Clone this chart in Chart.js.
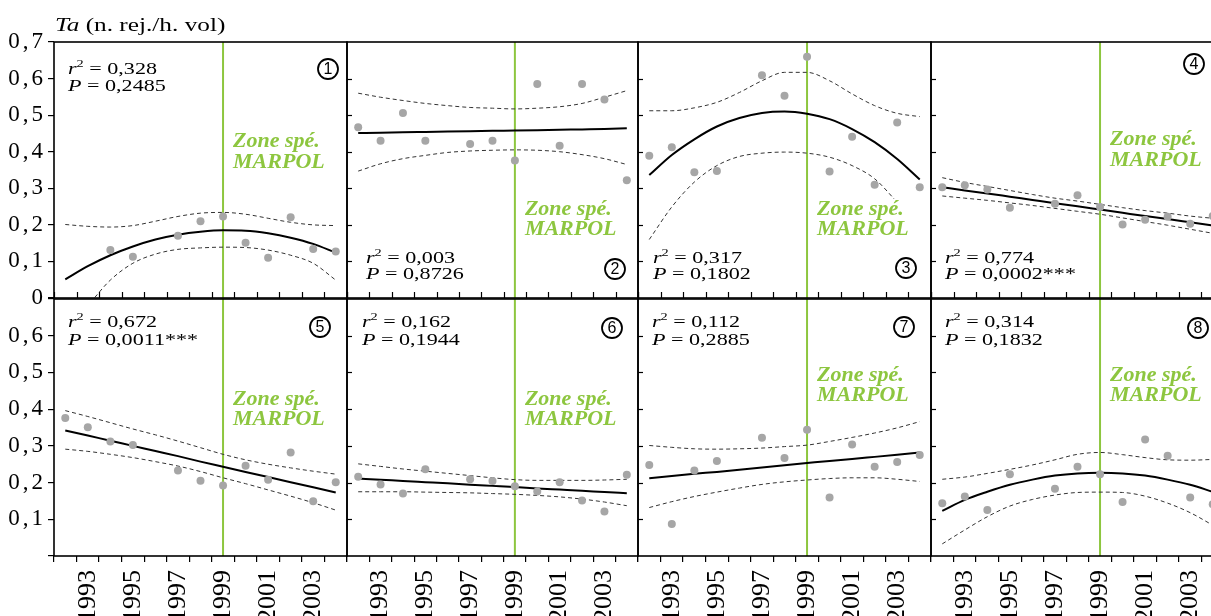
<!DOCTYPE html>
<html><head><meta charset="utf-8">
<script src="https://cdn.jsdelivr.net/npm/chart.js@4.4.0/dist/chart.umd.min.js"></script>
<style>
html,body{margin:0;padding:0;background:#fff;overflow:hidden;width:1211px;height:616px;}
#wrap{position:relative;width:1211px;height:616px;overflow:hidden;background:#fff;}
canvas{position:absolute;}
</style></head><body><div id="wrap"></div>
<script>
// ---------- DATA ----------
const years = [1992,1993,1994,1995,1996,1997,1998,1999,2000,2001,2002,2003,2004];
const yTickLabels = ['0','0,1','0,2','0,3','0,4','0,5','0,6','0,7'];
const xTickLabels = ['1993','1995','1997','1999','2001','2003'];
const markerYear = 1999;

const p1Obs = [null,null,0.131,0.113,null,0.170,0.210,0.223,0.151,0.110,0.221,0.134,0.127];
const p1Fit = [0.051,0.087,0.117,0.141,0.160,0.173,0.181,0.185,0.184,0.177,0.165,0.148,0.124];
const p1Up  = [0.201,0.196,0.194,0.198,0.210,0.223,0.232,0.234,0.229,0.218,0.207,0.200,0.198];
const p1Lo  = [-0.080,-0.020,0.049,0.095,0.120,0.133,0.137,0.139,0.138,0.131,0.117,0.095,0.049];

const p2Obs = [0.467,0.430,0.506,0.430,null,0.421,0.430,0.376,0.585,0.416,0.585,0.543,0.322];
const p2Fit = [0.451,0.452,0.453,0.454,0.455,0.456,0.457,0.458,0.459,0.460,0.461,0.462,0.464];
const p2Up  = [0.560,0.549,0.540,0.532,0.526,0.521,0.519,0.517,0.519,0.523,0.532,0.549,0.567];
const p2Lo  = [0.347,0.367,0.381,0.390,0.398,0.402,0.404,0.405,0.404,0.400,0.392,0.381,0.365];

const p3Obs = [0.389,0.412,0.344,0.347,null,0.609,0.553,0.660,0.346,0.441,0.310,0.480,0.303];
const p3Fit = [0.336,0.391,0.434,0.469,0.492,0.506,0.510,0.504,0.489,0.462,0.426,0.380,0.324];
const p3Up  = [0.512,0.512,0.520,0.535,0.562,0.594,0.617,0.617,0.594,0.558,0.526,0.505,0.496];
const p3Lo  = [0.160,0.249,0.317,0.362,0.387,0.396,0.399,0.396,0.385,0.362,0.326,0.262,null];

const p4Obs = [0.303,0.308,0.297,0.247,null,0.258,0.281,0.249,0.201,0.214,0.222,0.203,0.224];
const p4Fit = [0.303,0.294,0.286,0.277,0.268,0.259,0.251,0.242,0.233,0.224,0.216,0.207,0.198];
const p4Up  = [0.329,0.316,0.305,0.294,0.283,0.273,0.265,0.256,0.247,0.239,0.232,0.224,0.218];
const p4Lo  = [0.279,0.273,0.267,0.260,0.253,0.245,0.237,0.229,0.219,0.209,0.199,0.188,0.177];

const p5Obs = [0.376,0.351,0.312,0.302,null,0.233,0.205,0.192,0.246,0.208,0.282,0.149,0.201];
const p5Fit = [0.342,0.328,0.314,0.300,0.286,0.272,0.257,0.243,0.229,0.215,0.201,0.187,0.173];
const p5Up  = [0.396,0.380,0.363,0.346,0.330,0.313,0.295,0.277,0.262,0.250,0.240,0.231,0.223];
const p5Lo  = [0.291,0.285,0.277,0.268,0.257,0.245,0.230,0.213,0.197,0.180,0.163,0.145,0.125];

const p6Obs = [0.216,0.195,0.170,0.236,null,0.209,0.204,0.190,0.176,0.201,0.151,0.121,0.221];
const p6Fit = [0.211,0.208,0.204,0.201,0.198,0.194,0.191,0.188,0.184,0.181,0.178,0.174,0.171];
const p6Up  = [0.251,0.244,0.237,0.231,0.225,0.219,0.213,0.208,0.206,0.206,0.206,0.207,0.209];
const p6Lo  = [0.175,0.175,0.175,0.174,0.173,0.172,0.170,0.168,0.165,0.161,0.155,0.147,0.137];

const p7Obs = [0.248,0.087,0.233,0.259,null,0.322,0.267,0.344,0.159,0.304,0.243,0.256,0.275];
const p7Fit = [0.212,0.218,0.224,0.229,0.235,0.241,0.247,0.253,0.259,0.264,0.270,0.276,0.282];
const p7Up  = [0.301,0.296,0.292,0.291,0.292,0.294,0.298,0.302,0.312,0.323,0.335,0.349,0.366];
const p7Lo  = [0.132,0.148,0.162,0.174,0.185,0.195,0.202,0.207,0.211,0.213,0.213,0.209,0.203];

const p8Obs = [0.144,0.162,0.125,0.223,null,0.183,0.243,0.223,0.147,0.317,0.273,0.159,0.141];
const p8Fit = [0.123,0.153,0.175,0.194,0.208,0.219,0.225,0.227,0.225,0.219,0.208,0.194,0.175];
const p8Up  = [0.209,0.215,0.225,0.236,0.248,0.262,0.277,0.282,0.276,0.268,0.262,0.261,0.263];
const p8Lo  = [0.033,0.071,0.107,0.136,0.154,0.166,0.173,0.174,0.173,0.163,0.144,0.118,0.084];

const panelNumbers = ['1','2','3','4','5','6','7','8'];
const r2Values = ['0,328','0,003','0,317','0,774','0,672','0,162','0,112','0,314'];
const pValues  = ['0,2485','0,8726','0,1802','0,0002***','0,0011***','0,1944','0,2885','0,1832'];
const zoneLines = ['Zone spé.','MARPOL'];
const titleItalic = 'Ta';
const titleRest = ' (n. rej./h. vol)';

const series = [
  [p1Obs,p1Fit,p1Up,p1Lo],[p2Obs,p2Fit,p2Up,p2Lo],[p3Obs,p3Fit,p3Up,p3Lo],[p4Obs,p4Fit,p4Up,p4Lo],
  [p5Obs,p5Fit,p5Up,p5Lo],[p6Obs,p6Fit,p6Up,p6Lo],[p7Obs,p7Fit,p7Up,p7Lo],[p8Obs,p8Fit,p8Up,p8Lo]
];

// ---------- LAYOUT / STYLE ----------
const colL = [54,347,638,931], colR = [347,638,931,1224];
const rowT = [42,299], rowB = [298,556];
const statsPos = [[68,74,91],[366,263,279],[653,263,279],[945,263,279],[68,327,345],[362,327,345],[652,327,345],[945,327,345]];
const zoneBase = [[147,168],[215,235],[215,235],[145,166],[405,425],[405,425],[381,401],[381,401]];
const numPos = [[328,69],[615,269],[906,268],[1194,64],[320,327],[612,328],[904,327],[1198,328]];
const GREEN = '#8dc63f';
const GRAY = '#a6a6a6';
const SERIF = '"Liberation Serif","Times New Roman",serif';
const SANS = '"Liberation Sans",Arial,sans-serif';

function drawRich(ctx, x, y, parts, sx){
  ctx.save();
  ctx.translate(x, y); ctx.scale(sx, 1);
  ctx.textAlign = 'left'; ctx.textBaseline = 'alphabetic';
  let cx = 0;
  for (const p of parts){
    ctx.font = p.font; ctx.fillStyle = p.color || '#000';
    ctx.fillText(p.t, cx, p.dy || 0);
    cx += ctx.measureText(p.t).width;
  }
  ctx.restore();
  return cx * sx;
}

function xy(arr){ return years.map((yr,k)=>({x:yr, y:arr[k]})); }
function isHalf(v){ return Math.abs(v - Math.round(v)) > 0.25; }

const wrap = document.getElementById('wrap');

for (let i = 0; i < 8; i++){
  const r = Math.floor(i/4), c = i % 4;
  const L = colL[c], R = colR[c], T = rowT[r], B = rowB[r];
  const padLeftTotal = c === 0 ? 54 : 12;
  const padR = 12;
  const padTopTotal = r === 0 ? 42 : 12;
  const padBottomTotal = r === 0 ? 12 : 60;
  const ox = L - padLeftTotal, oy = T - padTopTotal;
  const W = (R - L) + padLeftTotal + padR, H = (B - T) + padTopTotal + padBottomTotal;

  const cv = document.createElement('canvas');
  cv.width = W; cv.height = H;
  cv.style.left = ox + 'px'; cv.style.top = oy + 'px';
  cv.style.width = W + 'px'; cv.style.height = H + 'px';
  wrap.appendChild(cv);

  const [obs, fit, up, lo] = series[i];

  const deco = {
    id: 'deco' + i,
    beforeDraw(chart){ if (c === 0) chart.ctx.letterSpacing = '3px'; },
    beforeDatasetsDraw(chart){
      const ctx = chart.ctx; ctx.letterSpacing = '0px';
      const {top, bottom} = chart.chartArea;
      const gx = chart.scales.x.getPixelForValue(markerYear);
      ctx.save(); ctx.strokeStyle = GREEN; ctx.lineWidth = 2;
      ctx.beginPath(); ctx.moveTo(gx, top); ctx.lineTo(gx, bottom); ctx.stroke(); ctx.restore();
    },
    afterDraw(chart){
      const ctx = chart.ctx; ctx.letterSpacing = '0px';
      const a = chart.chartArea, xs = chart.scales.x, ys = chart.scales.y;
      ctx.save();
      ctx.strokeStyle = '#000'; ctx.lineWidth = 1.2;
      if (r === 0){
        for (let v = 1991.5; v <= 2004.6; v += 1){
          const px = Math.round(xs.getPixelForValue(v)) + 0.5;
          ctx.beginPath(); ctx.moveTo(px, a.bottom); ctx.lineTo(px, a.bottom - 6); ctx.stroke();
        }
      }
      if (c > 0){
        for (let k = 1; k <= 6; k++){
          const py = Math.round(ys.getPixelForValue(k/10)) + 0.5;
          ctx.beginPath(); ctx.moveTo(a.left, py); ctx.lineTo(a.left + 5, py); ctx.stroke();
        }
      }
      ctx.lineWidth = 1.6; ctx.strokeStyle = '#000';
      ctx.strokeRect(a.left, a.top, a.right - a.left, a.bottom - a.top);

      ctx.translate(-ox, -oy);
      const gxAbs = xs.getPixelForValue(markerYear) + ox;
      const zx = gxAbs + 10;
      const [zb1, zb2] = zoneBase[i];
      const zf = 'italic bold 20px ' + SERIF;
      ctx.font = zf;
      const zw = Math.max(ctx.measureText(zoneLines[0]).width, ctx.measureText(zoneLines[1]).width) * 1.1;
      ctx.fillStyle = '#fff';
      ctx.fillRect(zx - 2, zb1 - 16, zw + 4, zb2 - zb1 + 21);
      drawRich(ctx, zx, zb1, [{t: zoneLines[0], font: zf, color: GREEN}], 1.1);
      drawRich(ctx, zx, zb2, [{t: zoneLines[1], font: zf, color: GREEN}], 1.1);

      const [sx, sb1, sb2] = statsPos[i];
      drawRich(ctx, sx, sb1, [
        {t: 'r', font: 'italic 17px ' + SERIF},
        {t: '2', font: '11px ' + SERIF, dy: -7},
        {t: ' = ' + r2Values[i], font: '17px ' + SERIF}
      ], 1.3);
      drawRich(ctx, sx, sb2, [
        {t: 'P', font: 'italic 17px ' + SERIF},
        {t: ' = ' + pValues[i], font: '17px ' + SERIF}
      ], 1.3);

      const [nx, ny] = numPos[i];
      ctx.beginPath(); ctx.arc(nx, ny, 10, 0, Math.PI*2);
      ctx.lineWidth = 1.8; ctx.strokeStyle = '#000'; ctx.stroke();
      ctx.fillStyle = '#000'; ctx.font = '16px ' + SANS;
      ctx.textAlign = 'center'; ctx.textBaseline = 'middle';
      ctx.fillText(panelNumbers[i], nx, ny + 1);

      if (i === 0){
        drawRich(ctx, 55, 31, [
          {t: titleItalic, font: 'italic 19px ' + SERIF},
          {t: titleRest, font: '19px ' + SERIF}
        ], 1.33);
      }
      ctx.restore();
    }
  };

  const xScale = {
    type: 'linear', min: 1991.5, max: 2004.5, display: r === 1,
    afterFit: s => { s.height = (r === 1) ? 60 : 0; s.paddingLeft = 0; s.paddingRight = 0; s.paddingTop = 0; s.paddingBottom = 0; },
    ticks: {
      stepSize: 0.5, autoSkip: false, minRotation: 90, maxRotation: 90, padding: 8, z: 1,
      color: '#000', font: {family: SERIF, size: 26},
      callback: v => { const n = Math.round(v); return (!isHalf(v) && xTickLabels.includes(String(n))) ? String(n) : ''; }
    },
    grid: {
      drawOnChartArea: false, drawTicks: true, tickLength: 6, lineWidth: 1.2,
      tickColor: ctx => (ctx.tick && isHalf(ctx.tick.value)) ? '#000' : 'rgba(0,0,0,0)'
    },
    border: {display: false}
  };
  const yScale = {
    min: 0, max: 0.7, display: c === 0,
    afterFit: s => { s.width = (c === 0) ? 54 : 0; s.paddingLeft = 0; s.paddingRight = 0; s.paddingTop = 0; s.paddingBottom = 0; },
    ticks: {
      stepSize: 0.1, autoSkip: false, padding: 2, color: '#000', font: {family: SERIF, size: 23},
      callback: v => { const k = Math.round(v*10); if (r === 1 && (k === 0 || k === 7)) return ''; return yTickLabels[k]; }
    },
    grid: {drawOnChartArea: false, drawTicks: true, tickLength: 6, lineWidth: 1.2, color: '#000'},
    border: {display: false}
  };

  new Chart(cv, {
    type: 'line',
    data: {
      datasets: [
        {data: xy(obs), showLine: false, pointRadius: 4, pointBackgroundColor: GRAY, pointBorderWidth: 0, borderColor: GRAY},
        {data: xy(fit), borderColor: '#000', borderWidth: 2, pointRadius: 0, cubicInterpolationMode: 'monotone', fill: false},
        {data: xy(up), borderColor: '#333', borderWidth: 1, borderDash: [4,3], pointRadius: 0, cubicInterpolationMode: 'monotone', fill: false},
        {data: xy(lo), borderColor: '#333', borderWidth: 1, borderDash: [4,3], pointRadius: 0, cubicInterpolationMode: 'monotone', fill: false}
      ]
    },
    options: {
      responsive: false, animation: false, devicePixelRatio: 1,
      layout: {padding: {
        left: c === 0 ? 0 : padLeftTotal, right: padR,
        top: padTopTotal, bottom: r === 0 ? padBottomTotal : 0
      }},
      plugins: {legend: {display: false}, tooltip: {enabled: false}},
      scales: {x: xScale, y: yScale}
    },
    plugins: [deco]
  });
}
</script>
</body></html>
